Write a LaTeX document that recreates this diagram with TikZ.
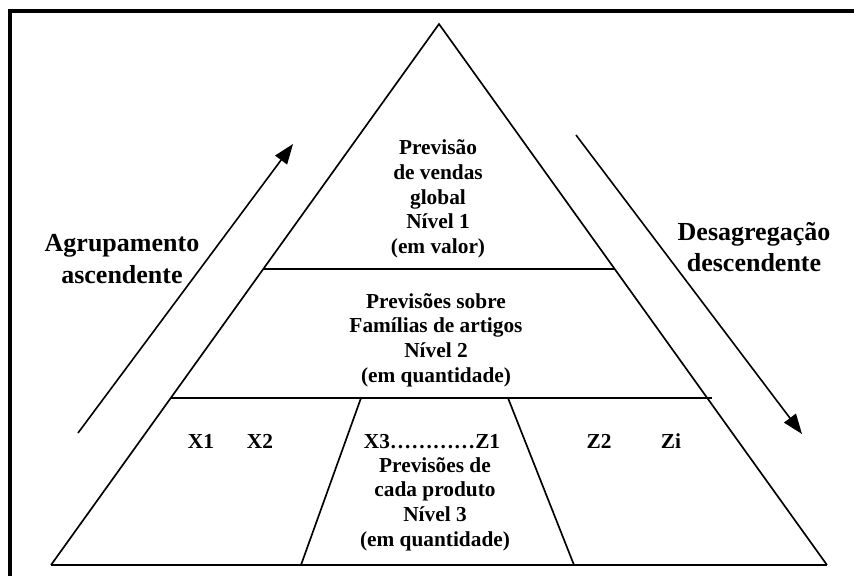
\documentclass[tikz,border=0pt]{standalone}
\usepackage{fontspec}
\setmainfont{Liberation Serif}
\usetikzlibrary{arrows.meta}
\begin{document}
\begin{tikzpicture}[x=0.75pt,y=-0.75pt,
  frame/.style={line width=3pt},
  side/.style={line width=1.25pt, line join=miter},
  bar/.style={line width=1.6pt},
  lbl/.style={font=\bfseries\fontsize{16}{18.5}\selectfont, align=center, inner sep=0pt},
  xlbl/.style={lbl, anchor=base},
  biglbl/.style={font=\bfseries\fontsize{19.5}{23.5}\selectfont, align=center, inner sep=0pt},
  flow/.style={line width=1.2pt, -{Triangle[length=15pt,width=11pt]}}]
\useasboundingbox (0,0) rectangle (854,576);
% frame (top and left only)
\draw[frame] (854,11) -- (10,11) -- (10,576);
% pyramid corners
\coordinate (A) at (439,24);
\coordinate (BL) at (51,565);
\coordinate (BR) at (827,565);
\coordinate (L1a) at (263.3,269);
\coordinate (L1b) at (614.7,269);
\coordinate (L2a) at (170.8,398);
\coordinate (L2b) at (712,398);
\coordinate (D1t) at (361,398);
\coordinate (D1b) at (301,565);
\coordinate (D2t) at (508,398);
\coordinate (D2b) at (574,565);
\draw[side] (BL) -- (A) -- (BR);
\draw[bar] (BL) -- (BR);
\draw[bar] (L1a) -- (L1b);
\draw[bar] (L2a) -- (L2b);
\draw[side] (D1t) -- (D1b);
\draw[side] (D2t) -- (D2b);
% texts
\node[lbl] (n1) at (438,199) {Previsão\\de vendas\\global\\Nível 1\\(em valor)};
\node[lbl] (n2) at (436,340) {Previsões sobre\\Famílias de artigos\\Nível 2\\(em quantidade)};
\node[xlbl] (x1) at (201,448) {X1};
\node[xlbl] (x2) at (260,448) {X2};
\node[xlbl] (x3) at (432,448) {X3…………Z1};
\node[xlbl] (z2) at (599,448) {Z2};
\node[xlbl] (zi) at (671,448) {Zi};
\node[lbl] (n3) at (435,504) {Previsões de\\cada produto\\Nível 3\\(em quantidade)};
\node[biglbl] (agr) at (122,259) {Agrupamento\\ascendente};
\node[biglbl] (des) at (754,247) {Desagregação\\descendente};
% arrows
\coordinate (ua) at (78,433);
\coordinate (ub) at (293,144);
\coordinate (da) at (576,135);
\coordinate (db) at (802,434);
\draw[flow] (ua) -- (ub);
\draw[flow] (da) -- (db);
\end{tikzpicture}
\end{document}
